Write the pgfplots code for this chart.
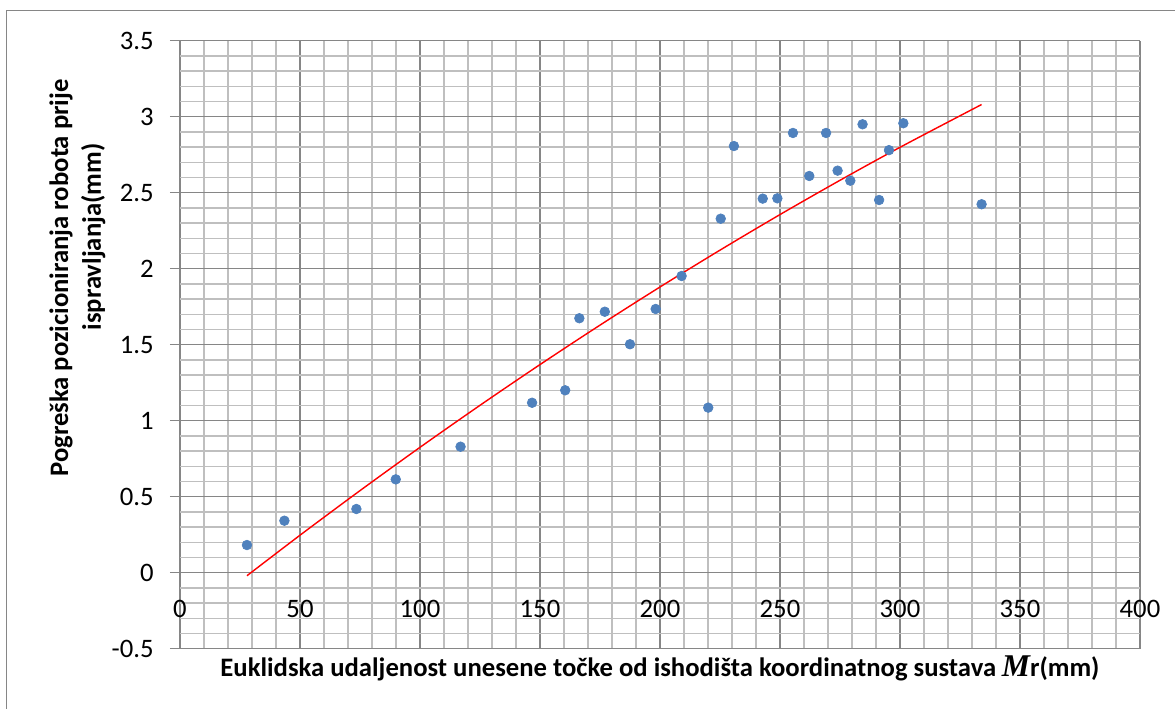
\documentclass[border=0pt]{standalone}
\usepackage{pgfplots}
\pgfplotsset{compat=1.18}
\usepackage{fontspec}
\setmainfont{Carlito}
\newfontfamily\serifbi{Liberation Serif}
\definecolor{ptblue}{HTML}{4F81BD}
\definecolor{majgrid}{HTML}{868686}
\definecolor{mingrid}{HTML}{BFBFBF}
\pgfplotstableread{
x y
27.9 0.182
43.5 0.342
73.5 0.419
89.9 0.614
116.9 0.829
146.7 1.118
160.5 1.200
166.4 1.674
177.0 1.717
187.5 1.503
198.2 1.735
209.0 1.952
220.1 1.086
225.3 2.329
230.8 2.807
242.8 2.461
248.9 2.463
255.4 2.893
262.2 2.610
269.2 2.893
274.0 2.645
279.3 2.579
284.4 2.950
291.3 2.452
295.4 2.780
301.4 2.957
334.0 2.424
}\pts
\pgfplotstableread{
x y
27.9 -0.020
50 0.2465
75 0.5399
100 0.8248
125 1.1012
150 1.3692
175 1.6287
200 1.8796
225 2.1221
250 2.3561
275 2.5816
300 2.7986
334 3.0801
}\trend
\begin{document}
\begin{tikzpicture}
\useasboundingbox (0,0) rectangle (705pt,425.4pt);
\draw[majgrid, line width=0.6pt] (4pt,-2pt) -- (4pt,418.8pt) -- (707pt,418.8pt);
\begin{axis}[
  at={(108pt,36.18pt)}, anchor=south west,
  scale only axis, width=576pt, height=364.8pt,
  xmin=0, xmax=400, ymin=-0.5, ymax=3.5,
  xtick={0,50,...,400}, ytick={-0.5,0,...,3.5},
  minor x tick num=4, minor y tick num=4,
  grid=both,
  major grid style={majgrid, line width=0.7pt},
  minor grid style={mingrid, line width=0.8pt},
  axis line style={majgrid, line width=0.7pt},
  x axis line style={draw=none},
  tick align=outside,
  xtick style={draw=none},
  ytick style={majgrid, line width=0.7pt},
  minor tick length=0pt,
  major tick length=6pt,
  xtick pos=bottom, ytick pos=left,
  /pgf/number format/assume math mode=true,
  tick label style={font=\fontsize{16}{19}\selectfont},
  xticklabel style={anchor=center, yshift=30pt},
  yticklabel style={anchor=east, inner sep=0pt, xshift=-9.6pt},
  clip=false,
]
\addplot[only marks, mark=*, mark size=2.9pt, mark options={fill=ptblue, draw=ptblue}] table {\pts};
\addplot[red, line width=0.85pt, smooth] table {\trend};
\end{axis}
\node[rotate=90, font=\fontsize{16}{19}\bfseries] at (36.6pt,258.6pt) {Pogreška pozicioniranja robota prije};
\node[rotate=90, font=\fontsize{16}{19}\bfseries] at (56pt,283.2pt) {ispravljanja(mm)};
\node[font=\fontsize{16}{19}\bfseries] at (396pt,24.6pt) {Euklidska udaljenost unesene točke od ishodišta koordinatnog sustava {\serifbi\bfseries\itshape\fontsize{19}{18}\selectfont M}r(mm)};
\end{tikzpicture}
\end{document}
